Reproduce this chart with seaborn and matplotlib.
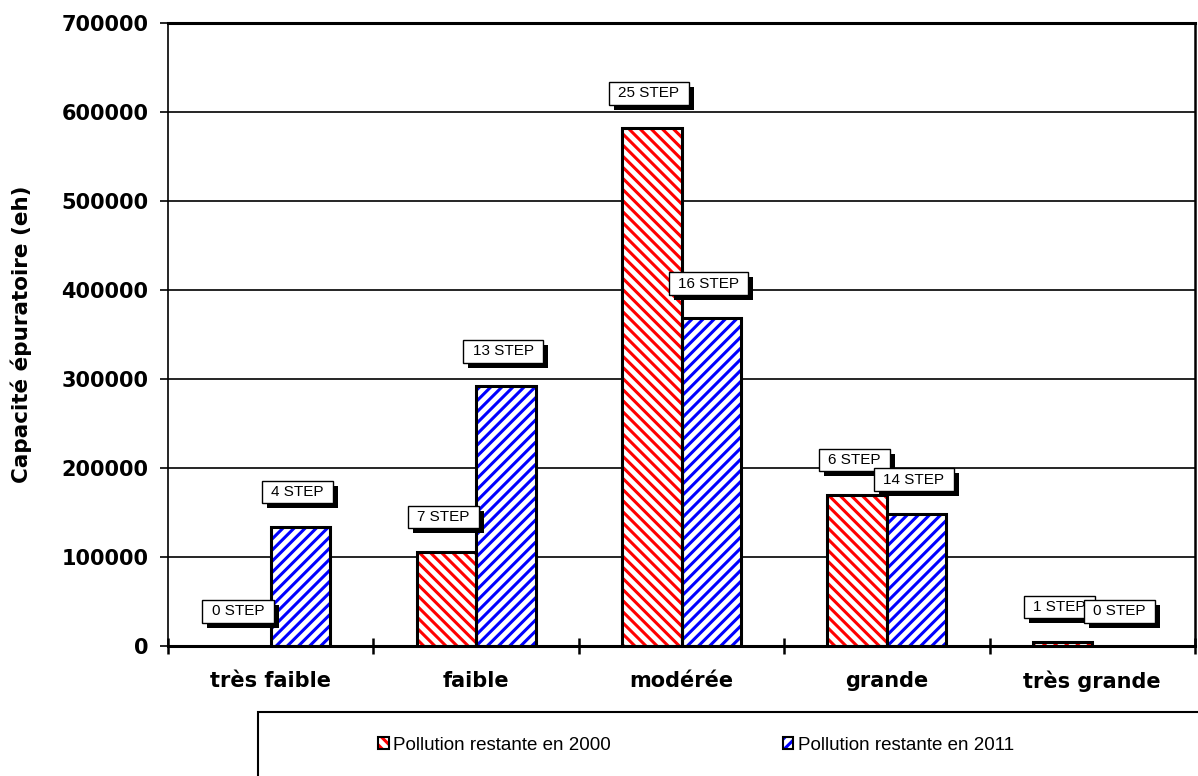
import numpy as np
import pandas as pd
import matplotlib
matplotlib.use("Agg")
import matplotlib.pyplot as plt
import seaborn as sns
from matplotlib.patches import Rectangle, Patch
from matplotlib.path import Path
import matplotlib.patheffects as pe

# ---------------- data ----------------
categories = ["très faible", "faible", "modérée", "grande", "très grande"]
series = ["Pollution restante en 2000", "Pollution restante en 2011"]
values_2000 = [0, 106000, 582000, 170000, 5000]
values_2011 = [134000, 292000, 368000, 148000, 0]
steps_2000 = ["0 STEP", "7 STEP", "25 STEP", "6 STEP", "1 STEP"]
steps_2011 = ["4 STEP", "13 STEP", "16 STEP", "14 STEP", "0 STEP"]
yticks = [0, 100000, 200000, 300000, 400000, 500000, 600000, 700000]
ylabel = "Capacité épuratoire (eh)"

# ---------------- style ----------------
sns.set_theme(style="white")
plt.rcParams["font.family"] = ["DejaVu Sans"]
plt.rcParams["hatch.linewidth"] = 2.2
ARIAL = ["Liberation Sans", "DejaVu Sans"]

colors = ["#ff0000", "#0000ff"]
hatches = ["\\\\\\", "///"]

df = pd.DataFrame({
    "cat": categories * 2,
    "serie": [series[0]] * len(categories) + [series[1]] * len(categories),
    "val": values_2000 + values_2011,
})

W, H = 1198, 776
fig = plt.figure(figsize=(W / 100, H / 100), dpi=100)
ax = fig.add_axes([168 / W, 1 - 646 / H, (1195 - 168) / W, (646 - 23) / H])

sns.barplot(data=df, x="cat", y="val", hue="serie", order=categories,
            hue_order=series, palette=["white", "white"], width=0.58,
            errorbar=None, legend=False, saturation=1, ax=ax)


def step_box(x0, y0, width, height, mutation_size):
    padx = 0.62 * mutation_size
    pady = 0.28 * mutation_size
    x0 -= padx
    y0 -= pady
    x1 = x0 + width + 2 * padx
    y1 = y0 + height + 2 * pady
    return Path([(x0, y0), (x1, y0), (x1, y1), (x0, y1), (x0, y0)], closed=True)


for cont, col, hatch, labels in zip(ax.containers, colors, hatches,
                                    [steps_2000, steps_2011]):
    for bar, lab in zip(cont, labels):
        bar.set_facecolor("white")
        bar.set_edgecolor(col)
        bar.set_hatch(hatch)
        bar.set_linewidth(0)
        bar.set_zorder(2)
        h = bar.get_height()
        if h > 0:
            ax.add_patch(Rectangle((bar.get_x(), bar.get_y()), bar.get_width(), h,
                                   fill=False, ec="black", lw=2.2, zorder=2.5))
        cx = bar.get_x() + bar.get_width() / 2
        t = ax.annotate(lab, xy=(cx, h), xytext=(-2, 25), textcoords="offset points",
                        ha="center", va="center", fontsize=11, family=ARIAL,
                        color="black", zorder=5,
                        bbox=dict(boxstyle=step_box, fc="white", ec="black", lw=1.0))
        t.get_bbox_patch().set_path_effects([
            pe.SimplePatchShadow(offset=(3.6, -3.6), shadow_rgbFace="black", alpha=1.0),
            pe.Normal()])

# ---------------- axes ----------------
ax.set_xlim(-0.5, len(categories) - 0.5)
ax.set_ylim(yticks[0], yticks[-1])
ax.set_yticks(yticks)
ax.set_yticklabels([str(v) for v in yticks], fontsize=15, fontweight="bold", color="black")
ax.set_xticks(range(len(categories)))
ax.set_xticklabels(categories, fontsize=15, fontweight="bold", color="black")
ax.set_xticks(np.arange(len(categories) + 1) - 0.5, minor=True)
ax.tick_params(axis="x", which="major", length=0, pad=18)
ax.tick_params(axis="x", which="minor", length=12, width=1.8, direction="inout",
               color="black", bottom=True)
ax.tick_params(axis="y", which="major", length=6, width=1.2, direction="out",
               color="black", left=True, pad=8)
ax.set_xlabel("")
ax.set_ylabel(ylabel, fontsize=15.5, fontweight="bold", color="black")
ax.yaxis.set_label_coords(-0.132, 0.5)

ax.set_axisbelow(True)
ax.yaxis.grid(True, color="black", lw=1.2)
ax.xaxis.grid(False)
for side, lw in [("left", 1.2), ("bottom", 2.2), ("top", 2.2), ("right", 1.8)]:
    ax.spines[side].set_visible(True)
    ax.spines[side].set_color("black")
    ax.spines[side].set_linewidth(lw)

# ---------------- legend ----------------
handles = []
for col, hatch in zip(colors, hatches):
    p = Patch(facecolor="white", edgecolor=col, hatch=hatch, lw=0)
    o = Patch(facecolor="none", edgecolor="black", lw=1.5)
    handles.append((p, o))
fig.legend(handles=handles, labels=series, loc="center",
           bbox_to_anchor=(696 / W, 1 - 745 / H), ncol=2, frameon=False,
           prop={"family": ARIAL, "size": 13.5}, labelcolor="black",
           handlelength=0.55, handleheight=0.55, handletextpad=0.22,
           columnspacing=9.2)
fig.add_artist(Rectangle((258 / W, -0.05), 1.0, 0.05 + (H - 712) / H,
                         transform=fig.transFigure, fill=False, ec="black",
                         lw=1.5, clip_on=False))

fig.savefig("out.png", dpi=100)
